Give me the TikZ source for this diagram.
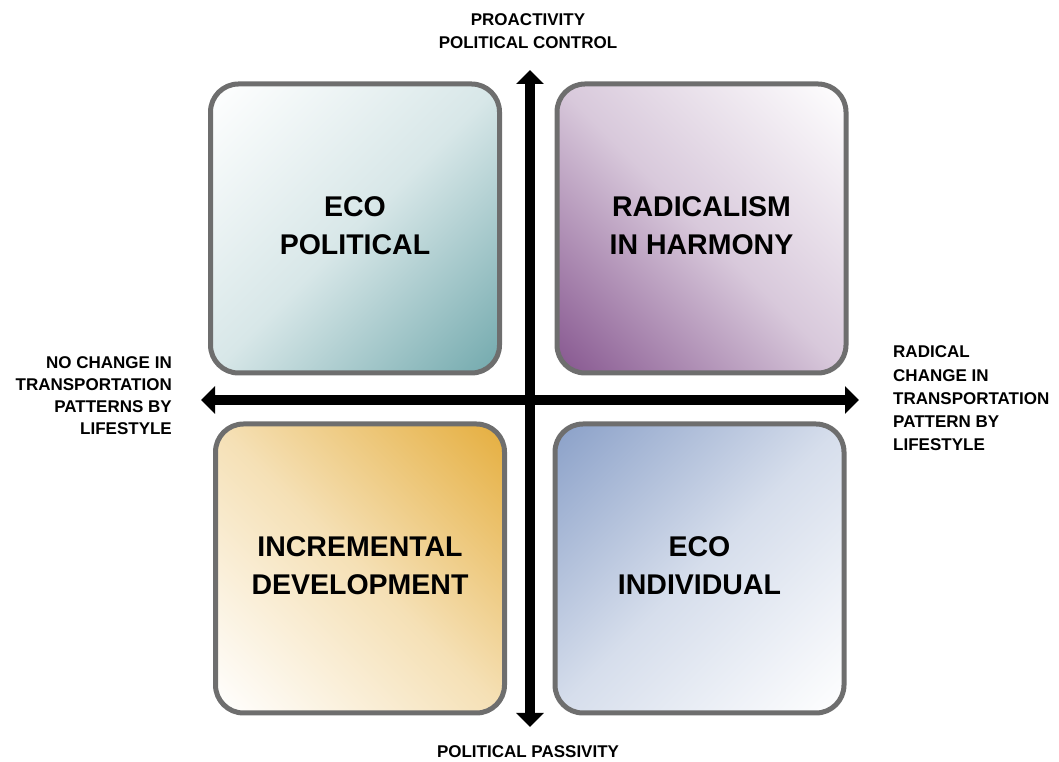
\documentclass[tikz,border=0pt]{standalone}
\usepackage{fontspec}
\setmainfont{Liberation Sans}
\usetikzlibrary{arrows.meta}

\definecolor{boxline}{HTML}{6E6E6E}
\definecolor{ecoTeal}{HTML}{72A9AD}
\definecolor{radPurple}{HTML}{86568F}
\definecolor{incGold}{HTML}{E5AE3E}
\definecolor{indBlue}{HTML}{8AA0C8}

% diagonal fade that reaches its end colours in the corners of a square box
\colorlet{quadA}{white}\colorlet{quadM}{gray}\colorlet{quadB}{black}
\pgfdeclareverticalshading[quadA,quadM,quadB]{quadfade}{100bp}{%
  color(0bp)=(quadB); color(14.6bp)=(quadB); color(50bp)=(quadM);
  color(85.4bp)=(quadA); color(100bp)=(quadA)}

\begin{document}
\begin{tikzpicture}[x=1pt,y=1pt,
  quad/.style={draw=boxline, line width=5pt, rounded corners=28pt,
    minimum width=289pt, minimum height=289pt, inner sep=0pt,
    text depth=6pt, align=center, font=\fontsize{28.5}{38}\selectfont\bfseries},
  fade/.style n args={4}{/utils/exec={\colorlet{quadA}{#1}\colorlet{quadM}{#2}%
    \colorlet{quadB}{#3}}, shade, shading=quadfade, shading angle=#4},
  axislabel/.style={inner sep=0pt, font=\fontsize{17}{22.5}\selectfont\bfseries},
  axisarrow/.style={line width=10pt,
    {Triangle[width=27pt,length=14pt]}-{Triangle[width=27pt,length=14pt]}}
]
\useasboundingbox (0,0) rectangle (1059,762);

% four scenario quadrants
\node[quad, fade={white}{ecoTeal!28}{ecoTeal}{45}] (ecopol) at (355,533.5)
  {ECO\\POLITICAL};
\node[quad, fade={white}{radPurple!32}{radPurple}{-45}] (radharm) at (701.5,533.5)
  {RADICALISM\\IN HARMONY};
\node[quad, fade={white}{incGold!38}{incGold}{135}] (incdev) at (360,193.5)
  {INCREMENTAL\\DEVELOPMENT};
\node[quad, fade={white}{indBlue!35}{indBlue}{225}] (ecoind) at (699.5,193.5)
  {ECO\\INDIVIDUAL};

% axes
\coordinate (vtop) at (530,692);
\coordinate (vbot) at (530,35);
\coordinate (hleft) at (201,362);
\coordinate (hright) at (859,362);
\draw[axisarrow] (vbot) -- (vtop);
\draw[axisarrow] (hleft) -- (hright);

% axis labels
\node[axislabel, align=center] (proact) at (528,731) {PROACTIVITY\\POLITICAL CONTROL};
\node[axislabel] (passiv) at (528,10) {POLITICAL PASSIVITY};
\node[axislabel, align=right, anchor=east, font=\fontsize{17}{22}\selectfont\bfseries]
  (nochange) at (172,366)
  {NO CHANGE IN\\TRANSPORTATION\\PATTERNS BY\\LIFESTYLE};
\node[axislabel, align=left, anchor=west, font=\fontsize{17}{23.2}\selectfont\bfseries]
  (radchange) at (893,363.5)
  {RADICAL\\CHANGE IN\\TRANSPORTATION\\PATTERN BY\\LIFESTYLE};
\end{tikzpicture}
\end{document}
